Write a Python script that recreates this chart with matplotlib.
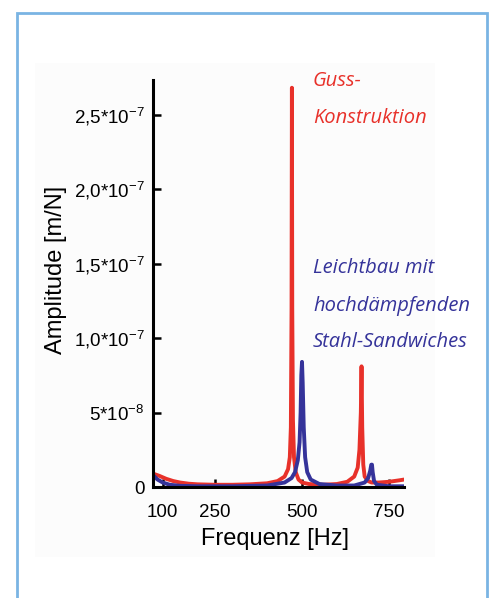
import matplotlib
matplotlib.use("Agg")
import matplotlib.pyplot as plt
from matplotlib.patches import Rectangle
import numpy as np

plt.rcParams['font.family'] = ['Liberation Sans', 'DejaVu Sans']
plt.rcParams['mathtext.default'] = 'regular'

# frequency response, values (amplitude in 1e-8 m/N)
guss_f = [72, 90, 110, 130, 150, 175, 200, 250, 300, 350, 400, 430, 450, 460, 465, 468,
          470, 471, 472, 474, 477, 482, 490, 500, 520, 560, 600, 630, 650, 660, 665, 669,
          671, 673, 676, 680, 690, 700, 720, 750, 780, 793]
guss_a = [0.9, 0.75, 0.55, 0.4, 0.3, 0.22, 0.18, 0.15, 0.15, 0.18, 0.25, 0.4, 0.7, 1.2, 2.0, 4.0,
          12.0, 26.8, 12.0, 4.5, 2.0, 1.0, 0.5, 0.3, 0.2, 0.15, 0.2, 0.35, 0.7, 1.3, 2.5, 5.0,
          8.1, 4.0, 1.5, 0.7, 0.4, 0.3, 0.3, 0.35, 0.45, 0.5]

leicht_f = [72, 85, 100, 120, 150, 200, 300, 400, 450, 470, 480, 488, 493, 496, 498, 500,
            502, 505, 509, 515, 525, 550, 600, 650, 680, 690, 696, 699, 701, 703, 707, 715,
            750, 793]
leicht_a = [0.8, 0.5, 0.3, 0.15, 0.08, 0.05, 0.05, 0.1, 0.3, 0.6, 1.0, 1.8, 3.0, 5.0, 7.5, 8.4,
            7.0, 4.0, 2.0, 1.0, 0.5, 0.2, 0.1, 0.1, 0.3, 0.6, 1.1, 1.5, 1.5, 1.0, 0.4, 0.15,
            0.05, 0.05]

x_ticks = [100, 250, 500, 750]
y_ticks = [0, 5e-8, 1e-7, 1.5e-7, 2e-7, 2.5e-7]
y_ticklabels = ['0', '5*10$^{-8}$', '1,0*10$^{-7}$', '1,5*10$^{-7}$', '2,0*10$^{-7}$', '2,5*10$^{-7}$']

red = '#e8312a'
blue = '#35339a'

fig = plt.figure(figsize=(4.94, 5.98), dpi=100)

# light picture background and blue frame
fig.patches.append(Rectangle((35 / 494, 1 - 557 / 598), 400 / 494, 494 / 598,
                             transform=fig.transFigure, facecolor='#fcfcfc', edgecolor='none', zorder=-5))
fig.patches.append(Rectangle((17 / 494, -0.05), 470 / 494, 1.05 - 13 / 598,
                             transform=fig.transFigure, facecolor='none', edgecolor='#7ab4e3',
                             linewidth=2.0, zorder=-4))

ax = fig.add_axes([153 / 494, 1 - 487 / 598, 251 / 494, 407 / 598])
ax.set_facecolor('none')
ax.set_zorder(2)

ax.plot(guss_f, np.array(guss_a) * 1e-8, color=red, lw=2.8, solid_capstyle='round')
ax.plot(leicht_f, np.array(leicht_a) * 1e-8, color=blue, lw=2.8, solid_capstyle='round')

ax.set_xlim(72, 793)
ax.set_ylim(0, 2.732e-7)
ax.set_xticks(x_ticks)
ax.set_yticks(y_ticks)
ax.set_yticklabels(y_ticklabels)

for s in ['top', 'right']:
    ax.spines[s].set_visible(False)
for s in ['left', 'bottom']:
    ax.spines[s].set_linewidth(2.2)
    ax.spines[s].set_zorder(5)
ax.tick_params(direction='in', length=6, width=1.8, labelsize=13.5, colors='black')
ax.tick_params(axis='x', pad=12)
ax.tick_params(axis='y', pad=6)

ax.set_xlabel('Frequenz [Hz]', fontsize=17)
ax.set_ylabel('Amplitude [m/N]', fontsize=17)
ax.xaxis.set_label_coords(0.486, -0.10)
ax.yaxis.set_label_coords(-0.343, 0.533)

note = dict(fontfamily='Open Sans', style='italic', fontsize=14.5, ha='left', va='baseline')
fig.text(313 / 494, 1 - 86 / 598, 'Guss-', color=red, **note)
fig.text(313 / 494, 1 - 123 / 598, 'Konstruktion', color=red, **note)
fig.text(313 / 494, 1 - 273 / 598, 'Leichtbau mit', color=blue, **note)
fig.text(313 / 494, 1 - 311 / 598, 'hochdämpfenden', color=blue, **note)
fig.text(313 / 494, 1 - 347 / 598, 'Stahl-Sandwiches', color=blue, **note)

fig.savefig('out.png', dpi=100)
